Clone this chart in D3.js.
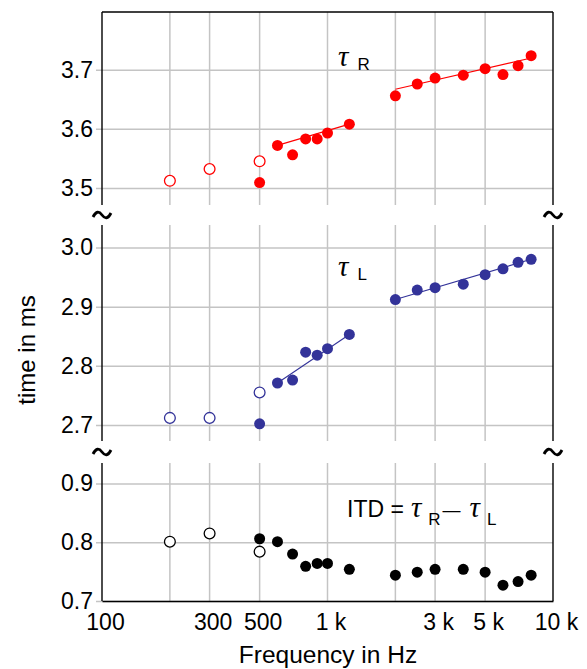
<!DOCTYPE html>
<html>
<head>
<meta charset="utf-8">
<script src="https://cdn.jsdelivr.net/npm/d3@7"></script>
<style>
  body { margin: 0; background: #fff; }
  svg { display: block; font-family: "Liberation Sans", Arial, sans-serif; }
</style>
</head>
<body>
<svg id="chart" width="587" height="669"></svg>
<script>
// measured frequencies (Hz)
var openFreq = [200, 300, 500];
var fillFreq = [500, 600, 700, 800, 900, 1000, 1250, 2000, 2500, 3000, 4000, 5000, 6000, 7000, 8000];

// tau R, tau L and ITD in ms
var tauROpen = [3.512, 3.532, 3.545];
var tauRFill = [3.509, 3.572, 3.556, 3.583, 3.583, 3.593, 3.608, 3.656, 3.676, 3.686, 3.691, 3.702, 3.692, 3.707, 3.724];
var tauLOpen = [2.712, 2.712, 2.755];
var tauLFill = [2.702, 2.771, 2.776, 2.823, 2.818, 2.829, 2.853, 2.912, 2.928, 2.932, 2.938, 2.954, 2.964, 2.975, 2.980];
var itdOpen = [0.801, 0.815, 0.784];
var itdFill = [0.806, 0.801, 0.780, 0.759, 0.764, 0.764, 0.754, 0.744, 0.749, 0.754, 0.754, 0.749, 0.727, 0.733, 0.744];

// fitted line segments
var fitFreq = [[600, 1250], [2000, 8000]];
var tauRFit = [[3.572, 3.608], [3.667, 3.720]];
var tauLFit = [[2.771, 2.853], [2.912, 2.980]];

// axes
var xGrid = [200, 300, 500, 1000, 2000, 3000, 5000];
var xTicks = [100, 300, 500, 1000, 3000, 5000, 10000];
var xTickLabels = ["100", "300", "500", "1 k", "3 k", "5 k", "10 k"];
var tauRTicks = [3.5, 3.6, 3.7];
var tauLTicks = [2.7, 2.8, 2.9, 3.0];
var itdTicks = [0.7, 0.8, 0.9];

var svg = d3.select("#chart");
var left = 102, right = 553;
var sans = "'Liberation Sans', Arial, sans-serif";
var serif = "'Liberation Serif', 'Times New Roman', serif";

var x = d3.scaleLog().domain([100, 10000]).range([left, right]);

var panels = [
  {domain: [3.471, 3.798], top: 12, bottom: 205, ticks: tauRTicks, color: "#ff0000",
   open: tauROpen, fill: tauRFill, fit: tauRFit},
  {domain: [2.673, 3.038], top: 225, bottom: 441, ticks: tauLTicks, color: "#333399",
   open: tauLOpen, fill: tauLFill, fit: tauLFit},
  {domain: [0.7, 0.935], top: 463, bottom: 601, ticks: itdTicks, color: "#000000",
   open: itdOpen, fill: itdFill, fit: null}
];

panels.forEach(function(p, i) {
  var y = d3.scaleLinear().domain(p.domain).range([p.bottom, p.top]);
  var g = svg.append("g");

  // vertical grid
  g.selectAll(".vgrid")
    .data(xGrid)
    .enter().append("line")
    .attr("x1", function(d) { return x(d); })
    .attr("x2", function(d) { return x(d); })
    .attr("y1", p.top)
    .attr("y2", p.bottom)
    .attr("stroke", "#c4c4c4")
    .attr("stroke-width", 1.5);

  // horizontal grid + labels
  var yAxis = d3.axisLeft(y)
    .tickValues(p.ticks)
    .tickFormat(d3.format(".1f"))
    .tickSize(-(right - left + 6))
    .tickPadding(3);

  var ya = g.append("g")
    .attr("transform", "translate(" + (left - 6) + ",0)")
    .call(yAxis);
  ya.select(".domain").remove();
  ya.selectAll("line").attr("stroke", "#c4c4c4").attr("stroke-width", 1.5);
  ya.selectAll("text")
    .attr("font-size", 23)
    .attr("fill", "#000")
    .style("font-family", sans);

  // frame
  g.append("line").attr("x1", left).attr("x2", left).attr("y1", p.top).attr("y2", p.bottom)
    .attr("stroke", "#000").attr("stroke-width", 1.4);
  g.append("line").attr("x1", right).attr("x2", right).attr("y1", p.top).attr("y2", p.bottom)
    .attr("stroke", "#000").attr("stroke-width", 1.4);
  if (i == 0) {
    g.append("line").attr("x1", left).attr("x2", right).attr("y1", p.top).attr("y2", p.top)
      .attr("stroke", "#000").attr("stroke-width", 1.4);
  }

  // fit lines
  if (p.fit) {
    p.fit.forEach(function(seg, k) {
      g.append("line")
        .attr("x1", x(fitFreq[k][0]))
        .attr("x2", x(fitFreq[k][1]))
        .attr("y1", y(seg[0]))
        .attr("y2", y(seg[1]))
        .attr("stroke", p.color)
        .attr("stroke-width", 1.1);
    });
  }

  // open circles
  g.selectAll(".open")
    .data(p.open)
    .enter().append("circle")
    .attr("cx", function(d, j) { return x(openFreq[j]); })
    .attr("cy", function(d) { return y(d); })
    .attr("r", 5.4)
    .attr("fill", "#fff")
    .attr("stroke", p.color)
    .attr("stroke-width", 1.3);

  // filled circles
  g.selectAll(".fill")
    .data(p.fill)
    .enter().append("circle")
    .attr("cx", function(d, j) { return x(fillFreq[j]); })
    .attr("cy", function(d) { return y(d); })
    .attr("r", 5.5)
    .attr("fill", p.color);

  // bottom axis
  if (i == 2) {
    var xAxis = d3.axisBottom(x)
      .tickValues(xTicks)
      .tickFormat(function(d, j) { return xTickLabels[j]; })
      .tickSize(0)
      .tickPadding(13);
    var xa = g.append("g")
      .attr("transform", "translate(0," + p.bottom + ")")
      .call(xAxis);
    xa.select(".domain").attr("stroke", "#000").attr("stroke-width", 1.4);
    xa.selectAll("text")
      .attr("font-size", 23)
      .attr("dx", 3)
      .attr("fill", "#000")
      .style("font-family", sans);
  }
});

// axis break marks
var breaks = [215, 452];
breaks.forEach(function(by) {
  [left, right].forEach(function(bx) {
    svg.append("path")
      .attr("transform", "translate(" + bx + "," + by + ")")
      .attr("d", "M-9,2 C-6,-4 -3,-4 0,0 S6,4 9,-2")
      .attr("fill", "none")
      .attr("stroke", "#000")
      .attr("stroke-width", 2.8);
  });
});

// series labels
function tauLabel(tx, ty, sub) {
  var t = svg.append("text").attr("x", tx).attr("y", ty).attr("font-size", 22);
  t.append("tspan").text("\u03c4")
    .attr("font-family", serif)
    .attr("font-style", "italic").attr("font-size", 29);
  t.append("tspan").text(sub).attr("dx", 9).attr("dy", 4).attr("font-size", 17);
}
tauLabel(338, 66, "R");
tauLabel(338, 276, "L");

var itd = svg.append("text").attr("x", 347).attr("y", 517).attr("font-size", 23);
itd.append("tspan").text("ITD =");
itd.append("tspan").text("\u03c4")
  .attr("font-family", serif)
  .attr("font-style", "italic").attr("font-size", 29).attr("dx", 7);
itd.append("tspan").text("R").attr("dx", 7).attr("dy", 8).attr("font-size", 17);
itd.append("tspan").text("\u2014").attr("dx", 2).attr("dy", -9).attr("font-size", 18);
itd.append("tspan").text("\u03c4")
  .attr("font-family", serif)
  .attr("font-style", "italic").attr("font-size", 29).attr("dx", 9).attr("dy", 1);
itd.append("tspan").text("L").attr("dx", 7).attr("dy", 8).attr("font-size", 17);

// axis titles
svg.append("text")
  .attr("x", 328)
  .attr("y", 663)
  .attr("text-anchor", "middle")
  .attr("font-size", 24.5)
  .text("Frequency in Hz");

svg.append("text")
  .attr("transform", "translate(35,350) rotate(-90)")
  .attr("text-anchor", "middle")
  .attr("font-size", 24)
  .text("time in ms");
</script>
</body>
</html>
